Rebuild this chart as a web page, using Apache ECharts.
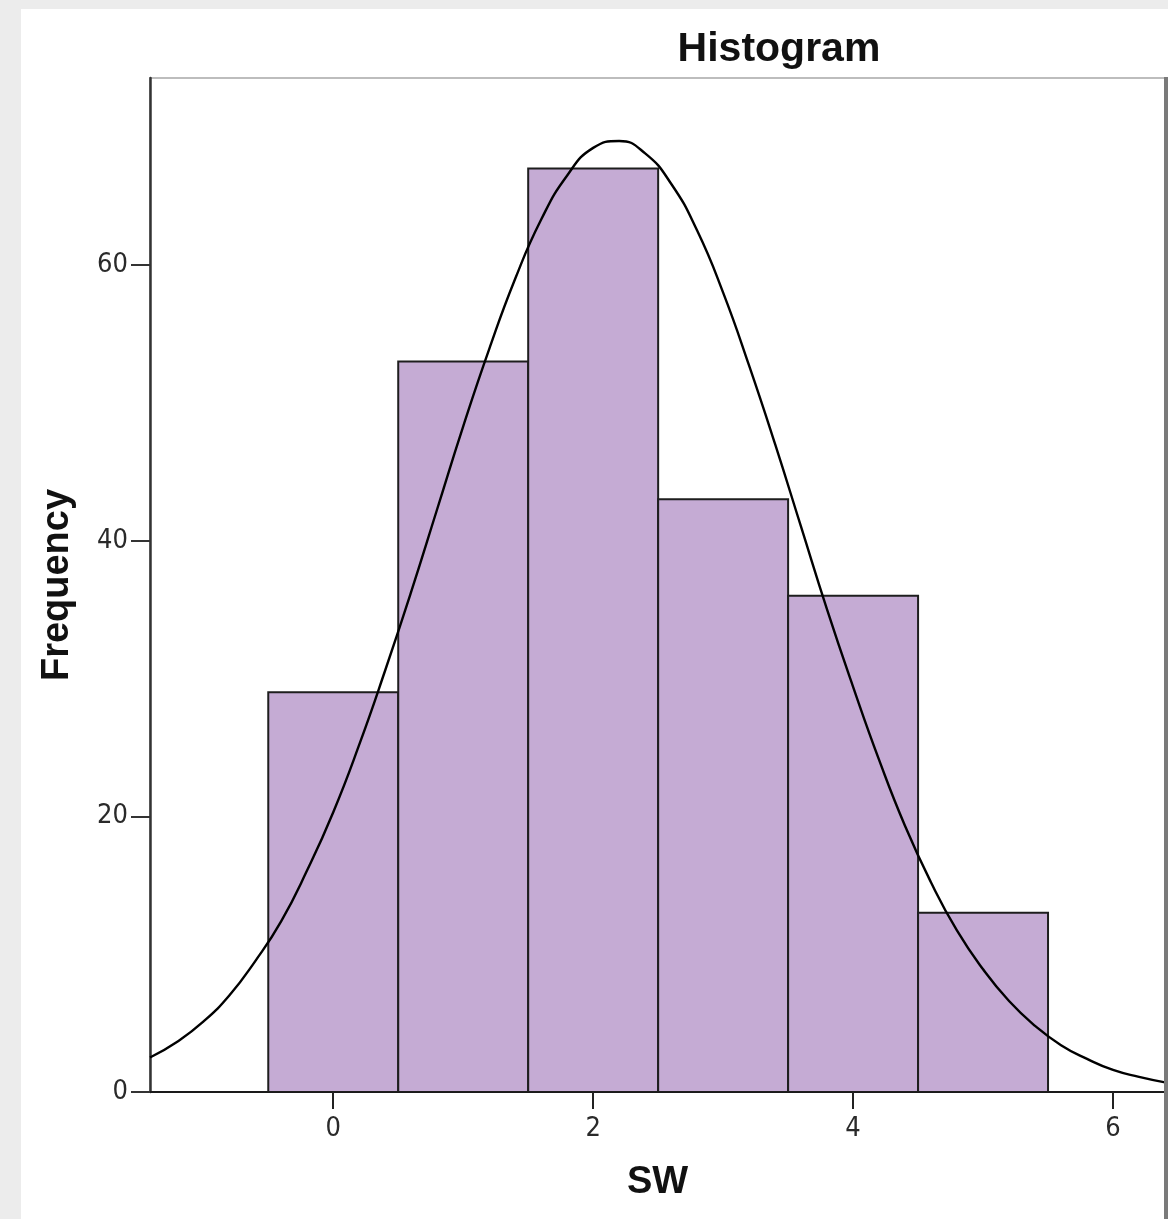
<!DOCTYPE html>
<html>
<head>
<meta charset="utf-8">
<script src="https://cdn.jsdelivr.net/npm/echarts@6/dist/echarts.min.js"></script>
<style>
  html, body { margin: 0; padding: 0; background: #ececec; width: 1168px; height: 1219px; overflow: hidden; }
  #main { position: absolute; left: 21px; top: 9px; width: 1147px; height: 1210px; background: #ffffff; }
</style>
</head>
<body>
<div id="main"></div>
<script>
// Histogram bins of SW
const binStart = [-0.5, 0.5, 1.5, 2.5, 3.5, 4.5];
const binEnd   = [0.5, 1.5, 2.5, 3.5, 4.5, 5.5];
const counts   = [29, 53, 67, 43, 36, 13];

// Normal curve
const curveX = [-1.41, -1.2, -1.0, -0.8, -0.6, -0.4, -0.2, 0.0, 0.2, 0.4, 0.6, 0.8, 1.0, 1.2, 1.4, 1.6, 1.8, 2.0, 2.2, 2.4, 2.6, 2.8, 3.0, 3.2, 3.4, 3.6, 3.8, 4.0, 4.2, 4.4, 4.6, 4.8, 5.0, 5.2, 5.4, 5.6, 5.8, 6.0, 6.2, 6.4];
const curveY = [2.5, 3.65, 5.1, 7.0, 9.5, 12.4, 16.1, 20.3, 25.2, 30.6, 36.3, 42.3, 48.3, 53.9, 59.0, 63.3, 66.5, 68.5, 69.0, 68.1, 65.9, 62.5, 58.0, 52.7, 47.0, 41.0, 35.0, 29.4, 24.1, 19.3, 15.2, 11.7, 8.9, 6.6, 4.8, 3.4, 2.4, 1.6, 1.1, 0.7];

// Tick labels
const xTicks = [0, 2, 4, 6];
const yTicks = [0, 20, 40, 60];

const barData = binStart.map((s, i) => [s, binEnd[i], counts[i]]);
const curveData = curveX.map((x, i) => [x, curveY[i]]);

const chart = echarts.init(document.getElementById('main'), null, { renderer: 'canvas' });
const labelFont = { fontFamily: "'DejaVu Sans Condensed', 'Liberation Sans', sans-serif", fontSize: 27, color: '#2a2a2a' };
const nameFont = { fontFamily: "'Liberation Sans', sans-serif", fontWeight: 'bold', fontSize: 38, color: '#111' };

chart.setOption({
  animation: false,
  title: {
    text: 'Histogram',
    left: 753,
    top: 15,
    textAlign: 'center',
    textStyle: { fontFamily: "'Liberation Sans', sans-serif", fontWeight: 'bold', fontSize: 41, color: '#111' }
  },
  grid: {
    left: 129, top: 69, right: 3, bottom: 127,
    show: true, borderColor: '#a8a8a8', borderWidth: 1.5, backgroundColor: 'transparent'
  },
  xAxis: {
    type: 'value',
    min: -1.41, max: 6.4,
    name: 'SW', nameLocation: 'middle', nameGap: 72, nameTextStyle: nameFont,
    splitLine: { show: false },
    axisLine: { show: true, onZero: false, lineStyle: { color: '#1a1a1a', width: 2 } },
    axisTick: { show: true, customValues: xTicks, length: 17, lineStyle: { color: '#222', width: 2 } },
    axisLabel: { customValues: xTicks, margin: 23, ...labelFont }
  },
  yAxis: {
    type: 'value',
    min: 0, max: 73.57,
    name: 'Frequency', nameLocation: 'middle', nameGap: 73, nameTextStyle: nameFont,
    splitLine: { show: false },
    axisLine: { show: true, onZero: false, lineStyle: { color: '#333', width: 2.5 } },
    axisTick: { show: true, customValues: yTicks, length: 19, lineStyle: { color: '#333', width: 2 } },
    axisLabel: { customValues: yTicks, margin: 22, ...labelFont }
  },
  graphic: [
    { type: 'rect', shape: { x: 1143, y: 68, width: 4, height: 1150 }, style: { fill: '#7a7a7a' }, z: 100 }
  ],
  series: [
    {
      type: 'custom',
      data: barData,
      clip: true,
      renderItem: function (params, api) {
        const p0 = api.coord([api.value(0), api.value(2)]);
        const p1 = api.coord([api.value(1), 0]);
        return {
          type: 'rect',
          shape: { x: p0[0], y: p0[1], width: p1[0] - p0[0], height: p1[1] - p0[1] },
          style: { fill: '#c5abd4', stroke: '#1e1e1e', lineWidth: 2 }
        };
      },
      encode: { x: [0, 1], y: 2 },
      z: 2
    },
    {
      type: 'line',
      data: curveData,
      smooth: true,
      showSymbol: false,
      clip: true,
      lineStyle: { color: '#000', width: 2.4 },
      z: 3
    }
  ]
});
</script>
</body>
</html>
